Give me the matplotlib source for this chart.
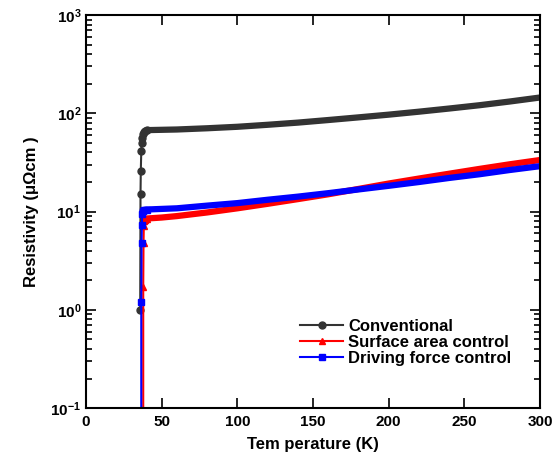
import numpy as np
import matplotlib.pyplot as plt
from matplotlib.ticker import LogLocator, NullFormatter, FixedLocator

# temperature (K) and resistivity (uOhm cm)
t_conv = [35.8, 36.0, 36.2, 36.5, 36.8, 37.2, 37.6, 38.2, 39, 40, 50, 60, 80, 100, 120, 140, 160,
          180, 200, 220, 240, 260, 280, 300]
r_conv = [1.0, 15, 26, 41, 50, 56, 61, 64, 66, 67.5, 68, 68.5, 70.5, 73, 76.5, 80.5, 85.5,
          91, 97, 104, 112, 121, 132, 145]

t_surf = [37.8, 37.8, 38.0, 38.2, 38.4, 38.7, 39, 40, 50, 60, 80, 100, 120, 140, 160, 180,
          200, 220, 240, 260, 280, 300]
r_surf = [0.09, 1.7, 4.8, 7.2, 8.0, 8.3, 8.4, 8.5, 8.7, 9.0, 9.8, 10.8, 12.0, 13.4, 15.0, 17.0,
          19.3, 21.7, 24.3, 27.2, 30.3, 33.5]

t_drv = [36.5, 36.5, 36.7, 36.9, 37.1, 37.4, 38, 40, 60, 80, 100, 120, 140, 160, 180, 200,
         220, 240, 260, 280, 300]
r_drv = [0.09, 1.2, 4.8, 7.3, 9.5, 10.2, 10.4, 10.5, 10.8, 11.5, 12.2, 13.2, 14.2, 15.4, 16.8,
         18.3, 20.0, 22.0, 24.0, 26.5, 29.0]

x_ticks = [0, 50, 100, 150, 200, 250, 300]

plt.rcParams['font.family'] = ['Liberation Sans', 'DejaVu Sans']
plt.rcParams['font.weight'] = 'bold'
plt.rcParams['mathtext.default'] = 'regular'

fig = plt.figure(figsize=(5.55, 4.58), dpi=100)
ax = fig.add_axes([0.155, 0.109, 0.818, 0.858])

dark = '#333333'
# transition part with visible markers, then the dense plateau as a thick band
ax.plot(t_conv[:10], r_conv[:10], color=dark, lw=1.5, marker='o', ms=5, label='Conventional')
ax.plot(t_conv[8:], r_conv[8:], color=dark, lw=4.5, solid_capstyle='round')

ax.plot(t_surf[:8], r_surf[:8], color='red', lw=1.5, marker='^', ms=5, label='Surface area control')
ax.plot(t_surf[5:], r_surf[5:], color='red', lw=4.5, solid_capstyle='round')

ax.plot(t_drv[:8], r_drv[:8], color='blue', lw=1.5, marker='s', ms=5, label='Driving force control')
ax.plot(t_drv[5:], r_drv[5:], color='blue', lw=4.5, solid_capstyle='round')

ax.set_yscale('log')
ax.set_xlim(0, 300)
ax.set_ylim(0.1, 1000)
ax.xaxis.set_major_locator(FixedLocator(x_ticks))
ax.yaxis.set_major_locator(LogLocator(base=10, numticks=10))
ax.yaxis.set_minor_locator(LogLocator(base=10, subs=np.arange(2, 10), numticks=10))
ax.yaxis.set_minor_formatter(NullFormatter())

ax.tick_params(which='both', direction='in', top=True, right=True, width=1.2, labelsize=11)
ax.tick_params(which='major', length=7)
ax.tick_params(which='minor', length=4)
for s in ax.spines.values():
    s.set_linewidth(1.5)
ax.tick_params(axis='x', pad=5)

ax.set_xlabel('Tem perature (K)', fontsize=12, fontweight='bold', labelpad=6)
ax.set_ylabel('Resistivity (\u03bc\u03a9cm )', fontsize=12, fontweight='bold', labelpad=8)

leg = ax.legend(loc='lower right', bbox_to_anchor=(0.97, 0.07), frameon=False, fontsize=12,
                handlelength=2.6, handletextpad=0.3, labelspacing=0.05)
for h in leg.legend_handles:
    h.set_markersize(5)

fig.savefig('out.png', dpi=100)
